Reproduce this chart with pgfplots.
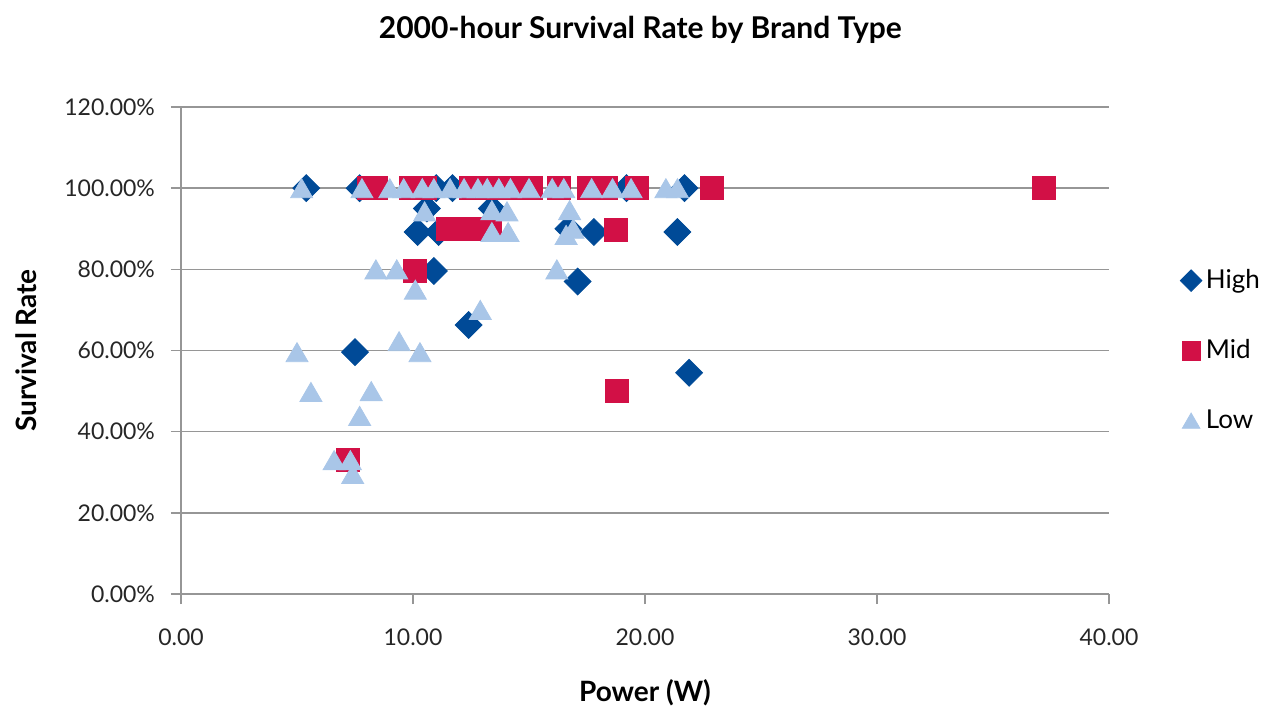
\documentclass[border=0pt]{standalone}
\usepackage{pgfplots}
\pgfplotsset{compat=1.18}
\usepackage{fontspec}
\setmainfont{Lato}
\definecolor{cHigh}{RGB}{0,74,151}
\definecolor{cMid}{RGB}{210,16,70}
\definecolor{cLow}{RGB}{169,198,232}
\definecolor{cGrid}{RGB}{150,150,150}
\begin{document}
\begin{tikzpicture}
\useasboundingbox (0,0) rectangle (630.5pt,354pt);
\begin{axis}[
    at={(90.5pt,57pt)}, anchor=south west,
    scale only axis,
    width=464pt, height=243.5pt,
    xmin=0, xmax=40, ymin=0, ymax=120,
    xtick={0,10,...,40}, ytick={0,20,...,120},
    axis x line*=bottom, axis y line*=left,
    axis line style={cGrid, line width=0.8pt},
    major tick style={cGrid, line width=0.8pt},
    tick align=outside, major tick length=5pt,
    ymajorgrids, grid style={cGrid, line width=0.8pt},
    /pgf/number format/assume math mode=true,
    xticklabel={\pgfmathprintnumber[fixed,fixed zerofill,precision=2]{\tick}},
    yticklabel={\pgfmathprintnumber[fixed,fixed zerofill,precision=2]{\tick}\%},
    ticklabel style={font=\fontsize{11.5}{13}\selectfont, text=black!85},
    xticklabel style={yshift=-9pt},
    yticklabel style={xshift=-4.5pt},
    title={\bfseries 2000-hour Survival Rate by Brand Type},
    title style={font=\fontsize{15}{17}\selectfont, at={(0.495,1)}, yshift=22pt},
    xlabel={\bfseries Power (W)},
    xlabel style={font=\fontsize{14}{16}\selectfont, yshift=-10pt},
    ylabel={\bfseries Survival Rate},
    ylabel style={font=\fontsize{14}{16}\selectfont, yshift=7pt},
    legend style={at={(1.07,0.5)}, anchor=west, draw=none, fill=none,
        font=\fontsize{13}{15}\selectfont, row sep=20pt,
        legend cell align=left},
    legend image post style={scale=0.8},
    clip=false,
]
\addplot[only marks, mark=square*, mark size=4.75pt, color=cHigh,
    every mark/.append style={rotate=45}] coordinates {
    (5.4,100) (7.7,100) (11.0,100) (11.7,100) (19.2,100) (21.7,100)
    (10.6,95) (13.4,95)
    (10.2,89.2) (11.1,89.2) (16.7,90) (17.8,89.2) (21.4,89.2)
    (17.1,77) (10.9,79.6) (12.4,66.3) (7.5,59.6) (21.9,54.5)
};
\addlegendentry{High}
\addplot[only marks, mark=square*, mark size=5.75pt, color=cMid] coordinates {
    (8.1,100) (8.4,100) (9.9,100) (10.5,100)
    (12.5,100) (13.1,100) (13.8,100) (14.4,100) (15.1,100) (16.3,100)
    (17.6,100) (18.3,100) (19.65,100) (22.9,100) (37.2,100)
    (11.5,90) (12.1,90) (12.7,90) (13.3,90) (18.75,89.7)
    (10.1,79.6) (18.8,50) (7.2,33)
};
\addlegendentry{Mid}
\addplot[only marks, mark=triangle*, mark size=6.35pt, color=cLow,
    every mark/.append style={yshift=-1.6pt}] coordinates {
    (5.2,100) (7.8,100) (9.0,100) (9.6,100) (10.4,100) (10.9,100)
    (11.6,100) (12.2,100) (12.8,100) (13.2,100) (13.7,100) (14.2,100)
    (15.0,100) (16.0,100) (16.5,100) (17.7,100) (18.6,100) (19.4,100)
    (20.9,100) (21.4,100)
    (10.5,94.3) (13.4,94.6) (14.05,94.3) (16.75,94.6)
    (13.4,89.2) (14.1,89.2) (16.6,88.5) (16.9,90)
    (8.4,80) (9.3,80) (16.2,80) (10.1,75) (12.9,70) (9.4,62.3)
    (5.0,59.6) (10.3,59.6) (5.6,49.8) (8.2,50) (7.7,43.9)
    (6.6,33) (7.3,33) (7.4,29.6)
};
\addlegendentry{Low}
\end{axis}
\end{tikzpicture}
\end{document}
